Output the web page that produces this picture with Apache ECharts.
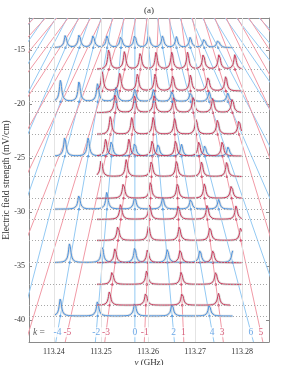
<!DOCTYPE html>
<html><head><meta charset="utf-8">
<script src="https://cdn.jsdelivr.net/npm/echarts@6/dist/echarts.min.js"></script>
<style>html,body{margin:0;padding:0;background:#fff}#c{width:281px;height:365px}</style>
</head><body><div id="c"></div>
<script>
// ---- data ----
const xTicks = [113.24, 113.25, 113.26, 113.27, 113.28];
const yTicks = [-40, -35, -30, -25, -20, -15];
const nu0Blue = 113.2572;     // zero-field frequency of even-k (blue) manifold, GHz
const nu0Red = 113.2634;      // zero-field frequency of odd-k (red) manifold, GHz
const starkSlope = 1.0e-4;    // GHz per unit k per mV/cm
const lineKsBlue = [-24,-22,-20,-18,-16,-14,-12,-10,-8,-6,-4,-2,0,2,4,6,8,10,12,14,16,18,20,22,24,26];
const lineKsRed = [-27,-25,-23,-21,-19,-17,-15,-13,-11,-9,-7,-5,-3,-1,1,3,5,7,9,11,13,15,17,19,21,23,25];
const fieldTop = -12, fieldBottom = -42;

const blueFields = [-14.75, -19.75, -24.8, -29.7, -34.65, -39.6];
const blueFirstK = [-10, -8, -6, -4, -4, -4];
const blueHeights = [
  [1.2,1.3,1.2,1.1,1.1,1.2,1.2,1.1,1.0,1.0,0.9,0.8],
  [2.0,1.9,1.7,1.4,1.2,1.1,1.0,0.9,0.9,0.8],
  [1.8,1.7,1.5,1.3,1.2,1.1,1.0,0.9],
  [1.3,1.6,1.2,1.1,1.0,0.9],
  [1.8,1.6,1.4,1.3,1.2,1.1],
  [1.6,1.4,1.3,1.2,1.1]
];
const blueSpan = [113.2400, 113.2780];

const redFields = [-16.76, -18.77, -20.77, -22.78, -24.79, -26.69, -28.70, -30.65, -32.6, -34.66, -36.67, -38.6];
const redFirstK = [-7, -7, -5, -5, -5, -5, -3, -3, -3, -3, -3, -3];
const redHeights = [
  [1.9,1.7,1.6,1.6,1.6,1.6,1.5,1.5,1.4],
  [1.8,1.7,1.6,1.6,1.5,1.5,1.4,1.4],
  [1.7,1.6,1.6,1.5,1.5,1.4,1.4],
  [1.7,1.6,1.6,1.5,1.5,1.4,1.4],
  [1.6,1.6,1.5,1.5,1.4,1.4],
  [1.6,1.6,1.5,1.5,1.4,1.4],
  [1.5,1.5,1.4,1.4,1.3],
  [1.5,1.5,1.4,1.4,1.3],
  [1.4,1.4,1.3,1.3,1.2],
  [1.4,1.3,1.3,1.2],
  [1.3,1.3,1.2,1.2],
  [1.3,1.2,1.2,1.1]
];
const redStart = 113.24915;
const redEnd = [113.2799,113.2799,113.2799,113.2799,113.2799,113.2799,113.2799,113.2799,113.2799,113.2799,113.2799,113.27745];

const kLabelsBlue = [-4, -2, 0, 2, 4, 6];
const kLabelsRed = [-5, -3, -1, 1, 3, 5];
const labelField = -41.1;
const peakHWHM = 0.0003;
const sampleStep = 0.00004;

// ---- styles ----
const FONT = 'Liberation Serif';
const C_BLUE_LINE = '#93c9f3', C_RED_LINE = '#f19aa6';
const C_BLUE = '#4a92e0', C_RED = '#cc3a5c';
const C_GRAY = '#d8d8d8', C_AXIS = '#8a8a8a';

function lineNu(nu0, k, E) { return nu0 - starkSlope * k * E; }

const series = [];
// vertical grid lines + dotted baselines
series.push({
  type: 'line', data: [], silent: true, z: 0,
  markLine: {
    silent: true, symbol: 'none', animation: false, label: { show: false },
    data: xTicks.map(v => ({ xAxis: v, lineStyle: { color: '#e4e4e4', width: 1, type: 'solid' } }))
      .concat(blueFields.concat(redFields).map(v => ({ yAxis: v, lineStyle: { color: '#a8a8a8', width: 1, type: [1, 2] } })))
  }
});
// Stark lines
function addLines(ks, nu0, color) {
  ks.forEach(k => {
    series.push({
      type: 'line', silent: true, z: 1, showSymbol: false, symbol: 'none',
      lineStyle: { color: color, width: 1 },
      data: [[lineNu(nu0, k, fieldTop), fieldTop], [lineNu(nu0, k, fieldBottom), fieldBottom]]
    });
  });
}
addLines(lineKsBlue, nu0Blue, C_BLUE_LINE);
addLines(lineKsRed, nu0Red, C_RED_LINE);

// spectra traces
function addTrace(E, nu0, firstK, heights, start, end, color) {
  const peaks = heights.map((h, i) => ({ nu: lineNu(nu0, firstK + 2 * i, E), h: h }));
  const data = [];
  const n = Math.round((end - start) / sampleStep);
  for (let i = 0; i <= n; i++) {
    const nu = start + (end - start) * i / n;
    let y = E;
    peaks.forEach(p => { const d = nu - p.nu; y += p.h * peakHWHM * peakHWHM / (d * d + peakHWHM * peakHWHM); });
    data.push([nu, y]);
  }
  series.push({ type: 'line', silent: true, z: 2, showSymbol: false, symbol: 'none', sampling: false,
    lineStyle: { color: C_GRAY, width: 2.6, opacity: 0.8 }, data: data });
  series.push({ type: 'line', silent: true, z: 3, showSymbol: false, symbol: 'none',
    lineStyle: { color: color, width: 1 }, data: data });
  series.push({ type: 'scatter', silent: true, z: 4, symbol: 'circle', symbolSize: 2.5,
    itemStyle: { color: color }, data: peaks.map(p => [p.nu, E]) });
}
blueFields.forEach((E, i) => addTrace(E, nu0Blue, blueFirstK[i], blueHeights[i], blueSpan[0], blueSpan[1], C_BLUE));
redFields.forEach((E, i) => addTrace(E, nu0Red, redFirstK[i], redHeights[i], redStart, redEnd[i], C_RED));

// k labels
const labData = [];
kLabelsBlue.forEach(k => labData.push({ value: [lineNu(nu0Blue, k, labelField), labelField], label: { formatter: String(k), color: C_BLUE } }));
kLabelsRed.forEach(k => labData.push({ value: [lineNu(nu0Red, k, labelField), labelField], label: { formatter: String(k), color: C_RED } }));
labData.push({ value: [113.2368, labelField], label: { formatter: '{i|k} =', color: '#333' } });
series.push({
  type: 'scatter', silent: true, z: 5, symbolSize: 0, data: labData,
  label: { show: true, position: 'inside', fontFamily: FONT, fontSize: 9.5, backgroundColor: '#fff', padding: [0, 1],
    rich: { i: { fontStyle: 'italic', fontFamily: FONT, fontSize: 9.5, color: '#333' } } }
});

const axisCommonX = { type: 'value', min: 113.2347, max: 113.2857, splitLine: { show: false },
  axisLine: { show: true, onZero: false, lineStyle: { color: C_AXIS, width: 1 } },
  axisTick: { show: true, inside: true, length: 3, customValues: xTicks, lineStyle: { color: C_AXIS } } };
const axisCommonY = { type: 'value', min: -42, max: -12, splitLine: { show: false },
  axisLine: { show: true, onZero: false, lineStyle: { color: C_AXIS, width: 1 } },
  axisTick: { show: true, inside: true, length: 3, customValues: yTicks, lineStyle: { color: C_AXIS } } };

const option = {
  animation: false,
  backgroundColor: '#fff',
  grid: { left: 29, right: 12, top: 18, bottom: 23, containLabel: false, outerBoundsMode: 'none' },
  xAxis: [
    Object.assign({}, axisCommonX, { position: 'bottom',
      axisLabel: { customValues: xTicks, formatter: v => v.toFixed(2), fontFamily: FONT, fontSize: 8, color: '#333', margin: 6 },
      name: '{i|ν} (GHz)', nameLocation: 'middle', nameGap: 16.5, nameMoveOverlap: false,
      nameTextStyle: { fontFamily: FONT, fontSize: 9, color: '#333', rich: { i: { fontStyle: 'italic', fontFamily: FONT, fontSize: 9, color: '#333' } } } }),
    Object.assign({}, axisCommonX, { position: 'top', axisLabel: { show: false } })
  ],
  yAxis: [
    Object.assign({}, axisCommonY, { position: 'left',
      axisLabel: { customValues: yTicks, formatter: v => String(v), fontFamily: FONT, fontSize: 8, color: '#333', margin: 4 },
      name: 'Electric field strength (mV/cm)', nameLocation: 'middle', nameGap: 18, nameRotate: 90, nameMoveOverlap: false,
      nameTextStyle: { fontFamily: FONT, fontSize: 9.5, color: '#333' } }),
    Object.assign({}, axisCommonY, { position: 'right', axisLabel: { show: false } })
  ],
  graphic: [{ type: 'text', x: 149, y: 11, style: { text: '(a)', font: '9px "Liberation Serif"', fill: '#333', align: 'center', verticalAlign: 'middle' } }],
  series: series
};
const chart = echarts.init(document.getElementById('c'), null, { renderer: 'canvas' });
chart.setOption(option);
</script></body></html>
